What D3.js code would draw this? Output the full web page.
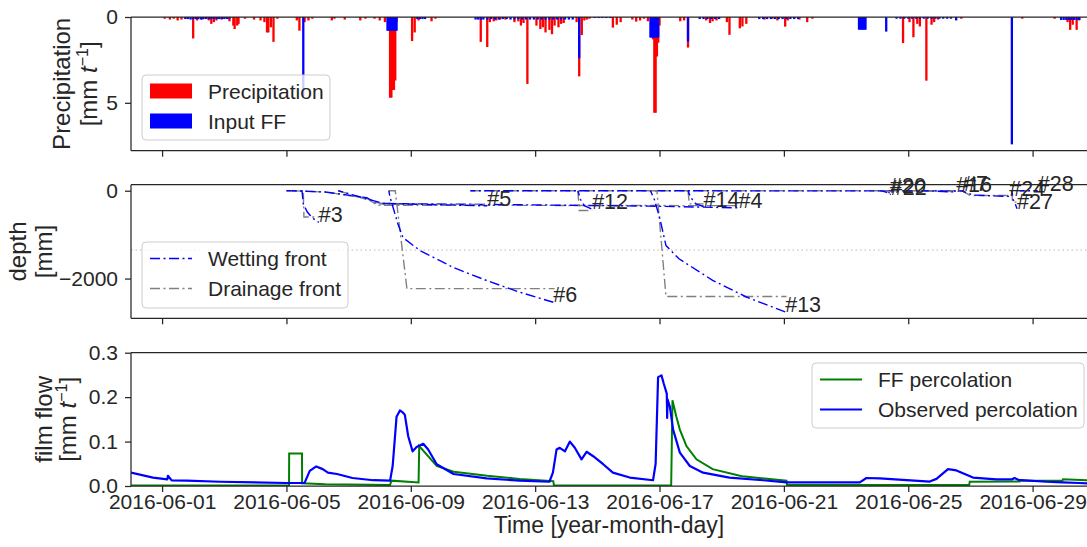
<!DOCTYPE html>
<html>
<head>
<meta charset="utf-8">
<script src="https://cdn.jsdelivr.net/npm/d3@7"></script>
<style>
body { margin: 0; background: #fff; }
text { font-family: "Liberation Sans", Arial, sans-serif; fill: #262626; }
</style>
</head>
<body>
<svg id="chart" width="1087" height="547"></svg>
<script>
// hours since 2016-05-31 00:00
var startTime = new Date(2016, 4, 31, 0, 0);
var endTime = new Date(2016, 5, 30, 18, 0);
var tickDates = ["2016-06-01", "2016-06-05", "2016-06-09", "2016-06-13", "2016-06-17", "2016-06-21", "2016-06-25", "2016-06-29"];

// precipitation bars [hour, mm]
var precipitation = [[26,0.1],[30,0.15],[33,0.1],[36,0.2],[39,0.15],[42,0.1],[48,1.25],[51,0.2],[55,0.15],[60,0.2],[62,0.4],[64,0.3],[66,0.2],[70,0.15],[76,0.25],[79,0.5],[80,0.7],[82,0.5],[83,0.4],[88,0.1],[95,0.15],[100,0.2],[103,0.3],[105,0.9],[106,0.9],[108,0.6],[110,1.45],[113,0.1],[128,0.2],[130,0.8],[134,0.3],[137,0.2],[140,0.1],[155,0.2],[157,0.1],[165,0.15],[177,0.2],[181,0.1],[188,0.1],[192,0.2],[196,0.3],[199,0.5],[200,4.7],[201,4.7],[202,4.25],[203,4.25],[204,3.7],[205,0.3],[217,1.4],[219,0.9],[222,0.2],[232,0.25],[235,0.1],[270,1.45],[275,1.75],[277,0.3],[280,0.25],[282,0.2],[285,0.15],[289,0.15],[296,0.3],[299,0.25],[301,0.5],[303,0.35],[306,3.9],[313,0.5],[316,0.7],[318,0.6],[320,0.9],[323,0.75],[325,1.0],[327,0.5],[330,0.6],[332,0.4],[334,0.35],[344,0.3],[346,3.46],[348,1.05],[350,0.2],[352,0.15],[354,0.1],[372,0.62],[375,0.45],[378,0.3],[387,0.15],[390,0.27],[393,0.2],[396,0.1],[399,0.25],[403,1.3],[404,5.58],[405,5.58],[406,2.3],[407,1.5],[408,0.5],[424,0.25],[427,0.2],[430,1.78],[444,0.2],[447,0.35],[449,0.25],[452,0.2],[460,0.3],[462,1.04],[470,0.66],[472,0.55],[475,0.4],[489,0.15],[495,0.1],[499,0.2],[505,0.56],[507,0.2],[516,0.15],[522,0.3],[526,0.1],[596,1.52],[601,0.3],[604,1.18],[607,0.4],[609,0.55],[614,3.71],[618,0.45],[620,0.3],[623,0.15],[641,0.1],[688,0.1],[713,0.1],[723,0.3],[725,0.75],[727,0.45],[730,0.75],[732,0.2]];

// film flow input bars [hour, mm]
var inputFF = [[42,0.12],[44,0.12],[46,0.15],[48,0.12],[50,0.12],[52,0.12],[54,0.15],[56,0.12],[58,0.12],[60,0.12],[62,0.12],[64,0.12],[66,0.12],[68,0.12],[70,0.12],[72,0.12],[74,0.12],[76,0.1],[133,4.6],[198,0.8],[199,0.8],[200,0.8],[201,0.8],[202,0.8],[203,0.8],[204,0.8],[205,0.8],[221,0.12],[223,0.12],[225,0.12],[227,0.12],[266,0.15],[268,0.15],[270,0.15],[272,0.15],[275,0.15],[278,0.12],[281,0.15],[284,0.15],[287,0.12],[290,0.12],[293,0.15],[296,0.15],[299,0.12],[302,0.15],[305,0.15],[308,0.15],[311,0.15],[314,0.15],[317,0.15],[320,0.15],[323,0.15],[326,0.15],[329,0.15],[332,0.15],[335,0.15],[338,0.15],[341,0.15],[346,2.4],[358,0.06],[361,0.06],[364,0.06],[367,0.06],[370,0.06],[401,1.2],[402,1.2],[403,1.2],[404,1.2],[405,1.2],[406,1.2],[407,1.2],[430,1.43],[439,0.12],[442,0.12],[445,0.12],[448,0.12],[451,0.12],[454,0.12],[485,0.12],[488,0.12],[491,0.12],[494,0.12],[497,0.12],[500,0.12],[503,0.12],[506,0.12],[509,0.12],[512,0.12],[515,0.12],[562,0.74],[563,0.74],[564,0.74],[565,0.74],[566,0.74],[567,0.74],[583,0.85],[591,0.1],[594,0.1],[597,0.1],[600,0.1],[603,0.1],[606,0.1],[609,0.1],[612,0.1],[615,0.1],[618,0.1],[621,0.1],[624,0.1],[627,0.1],[630,0.1],[633,0.1],[637,0.2],[680,7.42],[718,0.17],[720,0.17],[722,0.17],[724,0.17],[726,0.17],[728,0.17],[730,0.17],[732,0.17]];

// front events: label, wetting front [hour, depth mm], drainage front [hour, depth mm]
var eventLabels = ["#3", "#4", "#5", "#6", "#7", "#12", "#13", "#14", "#16", "#20", "#22", "#24", "#27", "#28"];
var wettingFront = [
  [[120,0],[132,0],[133,-300],[136,-480],[140,-620],[145,-720]],
  [[124,0],[150,-30],[182,-160],[190,-290],[300,-320],[400,-350],[469,-390]],
  [[160,0],[185,-210],[195,-290],[275,-345]],
  [[199,0],[200,-150],[203,-450],[206,-750],[210,-1070],[223,-1360],[249,-1750],[275,-2050],[300,-2310],[326,-2540]],
  [[262,0],[643,-5]],
  [[345,0],[347,-200],[350,-340],[356,-420]],
  [[401,0],[404,-200],[408,-600],[413,-1250],[423,-1550],[449,-2040],[475,-2420],[505,-2760]],
  [[430,0],[432,-150],[436,-300],[442,-360]],
  [[612,0],[637,-30]],
  [[578,0],[584,-30],[586,-50]],
  [[580,0],[585,-60],[586.5,-90]],
  [[641,0],[650,-100],[678,-130]],
  [[680,0],[681,-200],[683,-330],[684,-410]],
  [[686,0],[700,0]]
];
var drainageFront = [
  [[120,0],[133,0],[133.5,-600],[145,-600]],
  [[124,0],[150,-30],[182,-170],[190,-330],[469,-340]],
  [[160,0],[185,-230],[195,-310],[275,-310]],
  [[199,0],[204,0],[213,-2230],[327,-2230]],
  [[262,0],[643,0]],
  [[345,0],[346,-450],[356,-450]],
  [[401,0],[406,0],[413,-2410],[506,-2410]],
  [[430,0],[431,-300],[442,-300]],
  [[612,0],[637,-20]],
  [[578,0],[586,-20]],
  [[580,0],[586,-30]],
  [[641,0],[648,-110],[678,-110]],
  [[680,0],[680.5,-260],[684,-260]],
  [[686,0],[700,0]]
];
var sensorDepth = -1350;

// percolation [hour, mm/t]
var ffPercolation = [[0,0.001],[122,0.001],[122.1,0.073],[132,0.073],[132.1,0.006],[150,0.004],[200,0.002],[201,0.012],[222,0.008],[222.5,0.09],[236,0.045],[249,0.032],[275,0.023],[300,0.016],[326,0.011],[326.5,0.001],[417,0.001],[418,0.193],[421,0.156],[423.7,0.127],[428.8,0.09],[436.5,0.06],[449,0.038],[470,0.023],[472,0.022],[506,0.012],[506.5,0.002],[647,0.002],[647.5,0.0096],[686,0.01],[686.5,0.012],[719,0.012],[719.5,0.015],[738,0.013]];
var observedPercolation = [[0,0.03],[17,0.019],[28,0.015],[28.5,0.023],[31.4,0.0126],[43,0.012],[69,0.0096],[120,0.0067],[134,0.007],[138,0.034],[143,0.044],[148,0.038],[152,0.03],[159,0.027],[171,0.018],[187,0.013],[200,0.012],[202,0.045],[205,0.156],[207.6,0.17],[210,0.165],[211.4,0.16],[214,0.112],[217.4,0.078],[220.5,0.088],[225.6,0.095],[229.4,0.082],[236,0.049],[249,0.027],[274.5,0.017],[300,0.012],[323,0.0096],[325.7,0.03],[328.5,0.082],[331,0.086],[335,0.078],[338.8,0.1],[342.6,0.086],[347.8,0.06],[351.7,0.077],[356.8,0.067],[364.5,0.049],[372,0.03],[385,0.019],[403,0.013],[405,0.05],[406.9,0.245],[409.5,0.249],[411.3,0.23],[413.6,0.208],[413.9,0.153],[414.2,0.195],[416,0.178],[418.5,0.127],[423.7,0.075],[431.4,0.045],[441.6,0.03],[462,0.019],[488,0.013],[506,0.0081],[562.6,0.008],[567.7,0.018],[578,0.017],[616.6,0.01],[621.8,0.016],[630.7,0.038],[637.2,0.035],[650,0.019],[668,0.0148],[680,0.0148],[682,0.018],[685,0.014],[706.6,0.0096],[719,0.008],[732,0.0067],[738,0.006]];

function hourToDate(h) { return new Date(startTime.getTime() + h * 3600000); }

var svg = d3.select("#chart");
var left = 131, right = 1087;
var ink = "#262626";
var tickFont = 21, labelFont = 24;

var x = d3.scaleTime().domain([startTime, endTime]).range([left, right]);

var panels = [
  {top: 17, bottom: 150.7},
  {top: 184.7, bottom: 318.3},
  {top: 352.7, bottom: 486}
];

var yPrec = d3.scaleLinear().domain([0, 7.79]).range([panels[0].top, panels[0].bottom]);
var yDepth = d3.scaleLinear().domain([-2905, 137]).range([panels[1].bottom, panels[1].top]);
var yFlow = d3.scaleLinear().domain([0, 0.3]).range([panels[2].bottom, panels[2].top]);

panels.forEach(function(p, i){
  svg.append("clipPath").attr("id", "clip" + i)
    .append("rect").attr("x", left).attr("y", p.top).attr("width", right - left).attr("height", p.bottom - p.top);
});

// ---- precipitation panel
var g0 = svg.append("g").attr("clip-path", "url(#clip0)");
function barWidth(h) { return Math.max(2.3, x(hourToDate(h + 1)) - x(hourToDate(h))); }
g0.selectAll("rect.prec").data(precipitation).enter().append("rect")
  .attr("x", function(d){ return x(hourToDate(d[0])) - barWidth(d[0]) / 2; })
  .attr("y", yPrec(0))
  .attr("width", function(d){ return barWidth(d[0]); })
  .attr("height", function(d){ return yPrec(d[1]) - yPrec(0); })
  .attr("fill", "#ff0000");
g0.selectAll("rect.ff").data(inputFF).enter().append("rect")
  .attr("x", function(d){ return x(hourToDate(d[0])) - barWidth(d[0]) / 2; })
  .attr("y", yPrec(0))
  .attr("width", function(d){ return barWidth(d[0]); })
  .attr("height", function(d){ return yPrec(d[1]) - yPrec(0); })
  .attr("fill", "#0000ff");

// ---- depth panel
var g1 = svg.append("g").attr("clip-path", "url(#clip1)");
g1.append("line")
  .attr("x1", left).attr("x2", right)
  .attr("y1", yDepth(sensorDepth)).attr("y2", yDepth(sensorDepth))
  .attr("stroke", "#cfcfcf").attr("stroke-width", 1.3).attr("stroke-dasharray", "1.5,3");

var depthLine = d3.line()
  .x(function(d){ return x(hourToDate(d[0])); })
  .y(function(d){ return yDepth(d[1]); });

var dashDot = "10,3.5,2,3.5";
eventLabels.forEach(function(lab, i){
  g1.append("path").attr("d", depthLine(drainageFront[i]))
    .attr("fill", "none").attr("stroke", "#808080").attr("stroke-width", 1.4)
    .attr("stroke-dasharray", dashDot);
  g1.append("path").attr("d", depthLine(wettingFront[i]))
    .attr("fill", "none").attr("stroke", "#0000ff").attr("stroke-width", 1.4)
    .attr("stroke-dasharray", dashDot).attr("stroke-dashoffset", 5);
});
eventLabels.forEach(function(lab, i){
  var last = wettingFront[i][wettingFront[i].length - 1];
  svg.append("text")
    .attr("x", x(hourToDate(last[0])))
    .attr("y", yDepth(last[1]))
    .attr("font-size", 21.5)
    .text(lab);
});

// ---- film flow panel
var g2 = svg.append("g").attr("clip-path", "url(#clip2)");
var flowLine = d3.line()
  .x(function(d){ return x(hourToDate(d[0])); })
  .y(function(d){ return yFlow(d[1]); });
g2.append("path").attr("d", flowLine(ffPercolation))
  .attr("fill", "none").attr("stroke", "#008000").attr("stroke-width", 2);
g2.append("path").attr("d", flowLine(observedPercolation))
  .attr("fill", "none").attr("stroke", "#0000ff").attr("stroke-width", 2.2)
  .attr("stroke-linejoin", "round");

// ---- spines and axes
var parseDay = d3.timeParse("%Y-%m-%d");
var tickValues = tickDates.map(parseDay);

function styleAxis(sel) {
  sel.select(".domain").remove();
  sel.selectAll(".tick line").attr("stroke", ink).attr("stroke-width", 1.25);
  sel.selectAll(".tick text").attr("font-size", tickFont).attr("fill", ink)
    .attr("font-family", "'Liberation Sans', Arial, sans-serif");
}

panels.forEach(function(p, i){
  var spine = svg.append("g").attr("stroke", ink).attr("stroke-width", 1.25);
  spine.append("line").attr("x1", left).attr("x2", right + 2).attr("y1", p.top).attr("y2", p.top);
  spine.append("line").attr("x1", left).attr("x2", right + 2).attr("y1", p.bottom).attr("y2", p.bottom);
  spine.append("line").attr("x1", left).attr("x2", left).attr("y1", p.top).attr("y2", p.bottom);

  var ax = d3.axisBottom(x).tickValues(tickValues).tickSize(6).tickPadding(2)
    .tickFormat(i === 2 ? d3.timeFormat("%Y-%m-%d") : function(){ return ""; });
  svg.append("g").attr("transform", "translate(0," + p.bottom + ")").call(ax).call(styleAxis);
});

svg.append("g").attr("transform", "translate(" + left + ",0)")
  .call(d3.axisLeft(yPrec).tickValues([0, 5]).tickSize(6).tickPadding(7)).call(styleAxis);
svg.append("g").attr("transform", "translate(" + left + ",0)")
  .call(d3.axisLeft(yDepth).tickValues([0, -2000]).tickFormat(d3.format("d")).tickSize(6).tickPadding(7)).call(styleAxis);
svg.append("g").attr("transform", "translate(" + left + ",0)")
  .call(d3.axisLeft(yFlow).tickValues([0, 0.1, 0.2, 0.3]).tickFormat(d3.format(".1f")).tickSize(6).tickPadding(7)).call(styleAxis);

// ---- axis labels
function unitLabel(el) {
  el.append("tspan").text("[mm ");
  el.append("tspan").attr("font-style", "italic").text("t");
  el.append("tspan").attr("font-size", 16).attr("dy", -9).text("\u22121");
  el.append("tspan").attr("dy", 9).text("]");
}
function yLabel(cy, lines) {
  lines.forEach(function(l){
    var t = svg.append("text")
      .attr("transform", "translate(" + l.x + "," + cy + ") rotate(-90)")
      .attr("text-anchor", "middle").attr("font-size", labelFont);
    if (l.unit) unitLabel(t); else t.text(l.text);
  });
}
yLabel((panels[0].top + panels[0].bottom) / 2, [{x: 70, text: "Precipitation"}, {x: 97, unit: true}]);
yLabel((panels[1].top + panels[1].bottom) / 2, [{x: 26, text: "depth"}, {x: 52, text: "[mm]"}]);
yLabel((panels[2].top + panels[2].bottom) / 2, [{x: 52, text: "film flow"}, {x: 76, unit: true}]);

svg.append("text").attr("x", (left + right) / 2).attr("y", 533)
  .attr("text-anchor", "middle").attr("font-size", 23).text("Time [year-month-day]");

// ---- legends
function legendBox(x0, y0, w, h) {
  svg.append("rect").attr("x", x0).attr("y", y0).attr("width", w).attr("height", h)
    .attr("rx", 4).attr("fill", "#ffffff").attr("fill-opacity", 0.8)
    .attr("stroke", "#cccccc").attr("stroke-width", 1);
}

legendBox(142, 75, 188, 65);
var precLegend = [{label: "Precipitation", color: "#ff0000"}, {label: "Input FF", color: "#0000ff"}];
precLegend.forEach(function(d, i){
  var cy = 91 + i * 30;
  svg.append("rect").attr("x", 150).attr("y", cy - 7.5).attr("width", 42).attr("height", 15).attr("fill", d.color);
  svg.append("text").attr("x", 208).attr("y", cy + 7.5).attr("font-size", tickFont).text(d.label);
});

legendBox(142, 242, 206, 66);
var depthLegend = [{label: "Wetting front", color: "#0000ff"}, {label: "Drainage front", color: "#808080"}];
depthLegend.forEach(function(d, i){
  var cy = 258.5 + i * 30;
  svg.append("line").attr("x1", 150).attr("x2", 192).attr("y1", cy).attr("y2", cy)
    .attr("stroke", d.color).attr("stroke-width", 1.4).attr("stroke-dasharray", dashDot);
  svg.append("text").attr("x", 208).attr("y", cy + 7.5).attr("font-size", tickFont).text(d.label);
});

legendBox(812, 363, 272, 65);
var flowLegend = [{label: "FF percolation", color: "#008000"}, {label: "Observed percolation", color: "#0000ff"}];
flowLegend.forEach(function(d, i){
  var cy = 379.5 + i * 30;
  svg.append("line").attr("x1", 820).attr("x2", 862).attr("y1", cy).attr("y2", cy)
    .attr("stroke", d.color).attr("stroke-width", 2);
  svg.append("text").attr("x", 878).attr("y", cy + 7.5).attr("font-size", tickFont).text(d.label);
});
</script>
</body>
</html>
